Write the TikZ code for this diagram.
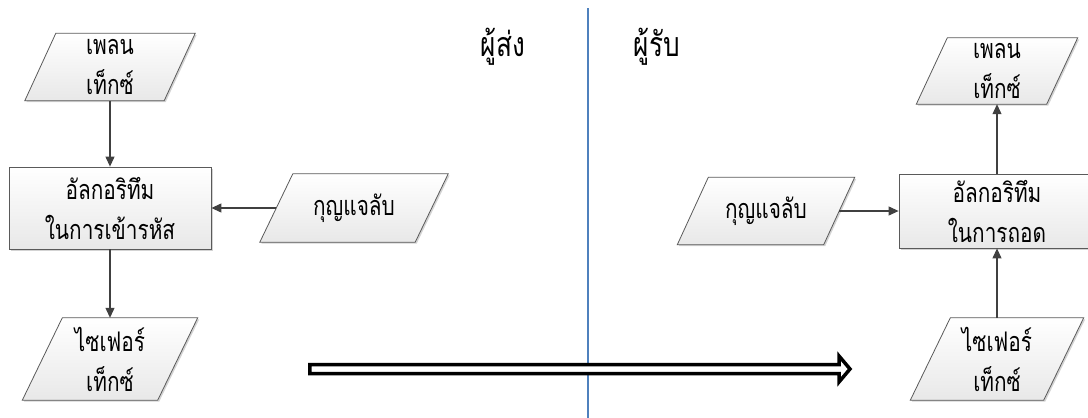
\documentclass[tikz,border=0pt]{standalone}
\usepackage{fontspec}
\newfontfamily\thaifont[Script=Thai, FakeStretch=0.77]{Loma}
\newcommand{\thaibody}{\thaifont\fontsize{27}{40}\selectfont\lineskiplimit=-50pt\relax}
\usetikzlibrary{arrows.meta,shadows,backgrounds}
\definecolor{linegray}{HTML}{5A5A5A}
\definecolor{arrowgray}{HTML}{404040}
\definecolor{divblue}{HTML}{4F81BD}

\begin{document}
\begin{tikzpicture}
    [x=1pt, y=-1pt,
    thaitext/.style={font=\thaibody, align=center, text=black, inner sep=0pt},
    boxlook/.style={draw=linegray, line width=0.8pt, top color=white, bottom color=gray!18,
        drop shadow={shadow xshift=1.5pt, shadow yshift=-1.5pt, opacity=.35, fill=gray}},
    iotext/.style={thaitext, rectangle},
    iobox/.style={boxlook, line join=miter},
    procbox/.style={thaitext, boxlook, rectangle},
    flow/.style={draw=arrowgray, line width=1.1pt, -{Triangle[length=10pt,width=9pt]}},
    side/.style={font=\thaifont\fontsize{34}{40}\selectfont}]
    \useasboundingbox (0,0) rectangle (1088,418);

    %% sender
    \node[iotext, minimum width=139pt, minimum height=67pt] (plainS) at (110,67) {เพลน\\เท็กซ์};
    \node[procbox, minimum width=202pt, minimum height=82pt] (encS) at (110,208) {อัลกอริทึม\\ในการเข้ารหัส};
    \node[iotext, minimum width=155pt, minimum height=68pt] (keyS) at (354,208) {กุญแจลับ};
    \node[iotext, minimum width=135pt, minimum height=82pt] (cipherS) at (110,359) {ไซเฟอร์\\เท็กซ์};

    \draw[flow] (plainS) -- (encS);
    \draw[flow] (keyS) -- (encS);
    \draw[flow] (encS) -- (cipherS);

    %% receiver
    \node[iotext, minimum width=130pt, minimum height=66pt] (plainR) at (997,71) {เพลน\\เท็กซ์};
    \node[procbox, minimum width=196pt, minimum height=74pt] (decR) at (997,211) {อัลกอริทึม\\ในการถอด};
    \node[iotext, minimum width=146pt, minimum height=67pt] (keyR) at (766,211) {กุญแจลับ};
    \node[iotext, minimum width=133pt, minimum height=82pt] (cipherR) at (997,359) {ไซเฟอร์\\เท็กซ์};

    \draw[flow] (keyR) -- (decR);
    \draw[flow] (decR) -- (plainR);
    \draw[flow] (cipherR) -- (decR);

    %% slanted data boxes behind the texts
    \begin{scope}[on background layer]
        \foreach \n/\h in {plainS/15.5, keyS/16.5, cipherS/20, plainR/15.5, keyR/15.5, cipherR/20}
            \draw[iobox] ([xshift=\h pt]\n.north west) -- ([xshift=\h pt]\n.north east)
                -- ([xshift=-\h pt]\n.south east) -- ([xshift=-\h pt]\n.south west) -- cycle;
    \end{scope}

    %% divider and labels
    \node[side] (sender) at (503,47) {ผู้ส่ง};
    \node[side] (receiver) at (657,47) {ผู้รับ};
    \coordinate (divtop) at (588,8);
    \coordinate (divbot) at (588,418);
    \draw[divblue, line width=1.2pt] (divtop) -- (divbot);

    %% transfer arrow
    \draw[line width=3.5pt, fill=white, line join=miter]
        (309.75,364.5) -- (839,364.5) -- (839,356) -- (850,369) -- (839,382) -- (839,373.5) -- (309.75,373.5) -- cycle;
\end{tikzpicture}
\end{document}
